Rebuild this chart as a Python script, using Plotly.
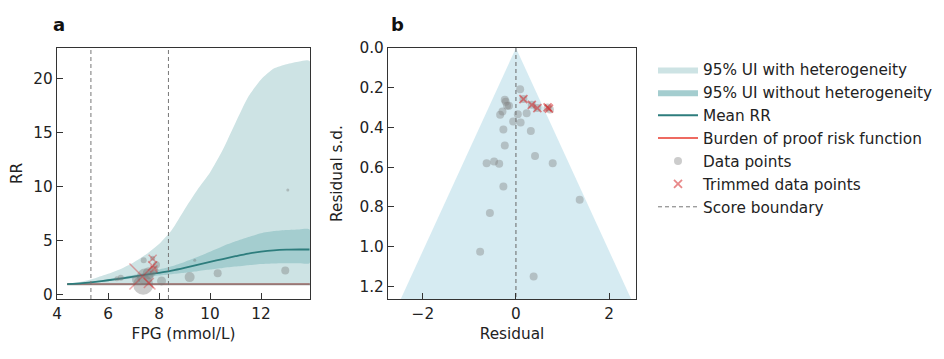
import plotly.graph_objects as go

# ---------------- data: panel a (risk curve) ----------------
fpg_grid = [4.4, 5.0, 5.5, 6.0, 6.5, 7.0, 7.5, 8.0, 8.5, 9.0, 9.5, 10.0,
            10.5, 11.0, 11.5, 12.0, 12.5, 13.0, 13.5, 13.9]
mean_rr = [1.0, 1.1, 1.22, 1.36, 1.52, 1.7, 1.88, 2.05, 2.25, 2.5, 2.78, 3.05,
           3.32, 3.58, 3.82, 4.0, 4.12, 4.18, 4.2, 4.2]
ui_wo_upper = [1.0, 1.12, 1.28, 1.45, 1.65, 1.85, 2.08, 2.35, 2.65, 3.05, 3.5, 4.0,
               4.5, 4.95, 5.35, 5.7, 5.9, 6.0, 6.05, 6.05]
ui_wo_lower = [1.0, 1.08, 1.18, 1.28, 1.41, 1.55, 1.68, 1.8, 1.92, 2.05, 2.2, 2.35,
               2.5, 2.62, 2.75, 2.85, 2.9, 2.92, 2.93, 2.93]
ui_w_upper = [1.0, 1.25, 1.55, 1.95, 2.4, 3.0, 3.75, 4.7, 6.0, 7.9, 9.7, 11.3,
              13.4, 15.9, 18.3, 19.9, 20.9, 21.3, 21.55, 21.6]
ui_w_lower = [1.0, 1.0, 1.0, 1.0, 1.0, 1.0, 1.0, 1.0, 1.0, 1.0, 1.0, 1.0,
              1.0, 1.0, 1.0, 1.0, 1.0, 1.0, 1.0, 1.0]
bprf_rr = [1.0] * len(fpg_grid)
score_boundary = [5.33, 8.37]

pts_fpg = [6.35, 6.5, 7.1, 7.4, 7.38, 7.45, 7.6, 7.8, 7.75, 7.9, 8.1, 9.2, 9.4, 10.3, 12.95, 13.05]
pts_rr = [1.5, 1.6, 1.4, 3.2, 0.95, 1.7, 2.0, 2.3, 3.4, 2.8, 1.3, 1.65, 3.2, 2.0, 2.25, 9.7]
pts_size = [5, 6, 8, 6, 20, 16, 12, 9, 5, 7, 9, 10, 3, 8, 8, 3]

trim_fpg = [7.75, 7.75, 7.8, 7.35, 7.6]
trim_rr = [3.35, 2.7, 2.4, 1.7, 1.1]
trim_size = [8, 9, 7, 26, 10]

# ---------------- data: panel b (funnel) ----------------
res = [0.09, -0.24, -0.19, -0.22, -0.15, -0.29, -0.34, 0.04, 0.23, -0.06, 0.1, -0.27,
       0.32, -0.24, 0.41, -0.63, -0.47, -0.36, 0.79, -0.27, 1.37, -0.56, -0.77, 0.38,
       0.73, 0.16, 0.34, 0.46, 0.68]
res_sd = [0.207, 0.26, 0.29, 0.27, 0.29, 0.32, 0.336, 0.333, 0.328, 0.37, 0.375, 0.41,
          0.418, 0.49, 0.543, 0.58, 0.571, 0.583, 0.58, 0.697, 0.764, 0.83, 1.025, 1.15,
          0.31, 0.257, 0.286, 0.302, 0.299]
trim_res = [0.16, 0.34, 0.46, 0.68, 0.71]
trim_sd = [0.257, 0.286, 0.302, 0.299, 0.305]
funnel_sd = [0.0, 1.263]
z95 = 1.96

# ---------------- styling ----------------
FONT = "DejaVu Sans"
C_LIGHT = "#cde3e4"
C_MED = "#a4cdcf"
C_LINE = "#2d7d7d"
C_PTS = "rgba(120,120,120,0.55)"
C_PTS_B = "rgba(128,128,128,0.4)"
C_TRIM = "rgba(214,39,40,0.55)"
C_FUNNEL = "rgba(173,216,230,0.5)"

# page has an 8px body margin: figure sized/positioned to compensate
OFF = 8
W, H = 944 - 2 * OFF, 359 - 2 * OFF


def fx_(px):
    return (px - OFF) / W


def fy_(py):
    return 1 - (py - OFF) / H


ya_lo, ya_hi = -0.37, 22.8
yb_lo, yb_hi = 0.0, 1.263

fig = go.Figure()

fig.add_trace(go.Scatter(
    x=fpg_grid + fpg_grid[::-1], y=ui_w_upper + ui_w_lower[::-1],
    fill="toself", fillcolor=C_LIGHT, line=dict(width=0, shape="spline", smoothing=0.6),
    mode="lines", name="95% UI with heterogeneity", legendrank=1, hoverinfo="skip",
    xaxis="x", yaxis="y"))
fig.add_trace(go.Scatter(
    x=fpg_grid + fpg_grid[::-1], y=ui_wo_upper + ui_wo_lower[::-1],
    fill="toself", fillcolor=C_MED, line=dict(width=0, shape="spline", smoothing=0.6),
    mode="lines", name="95% UI without heterogeneity", legendrank=2, hoverinfo="skip",
    xaxis="x", yaxis="y"))
fig.add_trace(go.Scatter(
    x=fpg_grid, y=bprf_rr, mode="lines", line=dict(color="#e8392c", width=1.5),
    name="Burden of proof risk function", legendrank=4, xaxis="x", yaxis="y"))
fig.add_trace(go.Scatter(
    x=[fpg_grid[0], 13.92], y=[1, 1], mode="lines",
    line=dict(color="rgba(135,130,130,0.85)", width=2), showlegend=False,
    xaxis="x", yaxis="y"))
fig.add_trace(go.Scatter(
    x=fpg_grid, y=mean_rr, mode="lines",
    line=dict(color=C_LINE, width=1.8, shape="spline", smoothing=0.8),
    name="Mean RR", legendrank=3, xaxis="x", yaxis="y"))
fig.add_trace(go.Scatter(
    x=pts_fpg, y=pts_rr, mode="markers",
    marker=dict(color=C_PTS, size=pts_size, line=dict(width=0)),
    showlegend=False, xaxis="x", yaxis="y"))
fig.add_trace(go.Scatter(
    x=trim_fpg, y=trim_rr, mode="markers",
    marker=dict(color=C_TRIM, size=trim_size, symbol="x-thin",
                line=dict(width=1.5, color=C_TRIM)),
    showlegend=False, xaxis="x", yaxis="y"))
sb_x, sb_y = [], []
for v in score_boundary:
    sb_x += [v, v, None]
    sb_y += [ya_lo, ya_hi, None]
fig.add_trace(go.Scatter(
    x=sb_x, y=sb_y, mode="lines", line=dict(color="#777777", width=1, dash="4px,3px"),
    name="Score boundary", legendrank=7, xaxis="x", yaxis="y"))

fxs = [0.0, -z95 * funnel_sd[1], z95 * funnel_sd[1]]
fys = [funnel_sd[0], funnel_sd[1], funnel_sd[1]]
fig.add_trace(go.Scatter(
    x=fxs, y=fys, fill="toself", fillcolor=C_FUNNEL, line=dict(width=0),
    mode="lines", showlegend=False, hoverinfo="skip", xaxis="x2", yaxis="y2"))
fig.add_trace(go.Scatter(
    x=[0, 0], y=[yb_lo, yb_hi], mode="lines",
    line=dict(color="#666666", width=1, dash="4px,3px"), showlegend=False,
    xaxis="x2", yaxis="y2"))
fig.add_trace(go.Scatter(
    x=res, y=res_sd, mode="markers",
    marker=dict(color=C_PTS_B, size=8, line=dict(width=0)),
    name="Data points", legendrank=5, xaxis="x2", yaxis="y2"))
fig.add_trace(go.Scatter(
    x=trim_res, y=trim_sd, mode="markers",
    marker=dict(color=C_TRIM, size=8, symbol="x-thin", line=dict(width=1.8, color=C_TRIM)),
    name="Trimmed data points", legendrank=6, xaxis="x2", yaxis="y2"))

axis_common = dict(
    showgrid=False, zeroline=False, showline=True, mirror=True,
    linecolor="#333333", linewidth=1.3, ticks="inside", ticklen=6, tickwidth=1.3,
    tickcolor="#333333", tickfont=dict(family=FONT, size=15.3, color="#222222"),
    title_font=dict(family=FONT, size=15.3, color="#222222"), automargin=False,
)

fig.update_layout(
    width=W, height=H, margin=dict(l=0, r=0, t=0, b=0, autoexpand=False),
    paper_bgcolor="white", plot_bgcolor="white",
    font=dict(family=FONT, size=15.3, color="#222222"),
    xaxis=dict(domain=[fx_(57), fx_(310)], range=[4, 13.92], tickvals=[4, 6, 8, 10, 12],
               title=dict(text="FPG (mmol/L)", standoff=6), anchor="y", **axis_common),
    yaxis=dict(domain=[fy_(299), fy_(48)], range=[ya_lo, ya_hi],
               tickvals=[0, 5, 10, 15, 20], title=dict(text="RR", standoff=13),
               anchor="x", **axis_common),
    xaxis2=dict(domain=[fx_(388), fx_(636)], range=[-2.75, 2.58], tickvals=[-2, 0, 2],
                title=dict(text="Residual", standoff=6), anchor="y2", **axis_common),
    yaxis2=dict(domain=[fy_(299), fy_(48)], range=[yb_hi, yb_lo],
                tickvals=[0.0, 0.2, 0.4, 0.6, 0.8, 1.0, 1.2], tickformat=".1f",
                title=dict(text="Residual s.d.", standoff=13), anchor="x2", **axis_common),
    legend=dict(x=fx_(653), y=fy_(53), xanchor="left", yanchor="top",
                font=dict(family=FONT, size=15.3, color="#222222"),
                itemwidth=40, traceorder="normal", bgcolor="rgba(0,0,0,0)",
                tracegroupgap=0, itemsizing="trace"),
    showlegend=True,
    annotations=[
        dict(text="<b>a</b>", x=fx_(59), y=fy_(24), xref="paper", yref="paper",
             showarrow=False, xanchor="center", yanchor="middle",
             font=dict(family=FONT, size=18, color="#111111")),
        dict(text="<b>b</b>", x=fx_(397), y=fy_(24), xref="paper", yref="paper",
             showarrow=False, xanchor="center", yanchor="middle",
             font=dict(family=FONT, size=18, color="#111111")),
    ],
)

fig.write_html("out.html")
